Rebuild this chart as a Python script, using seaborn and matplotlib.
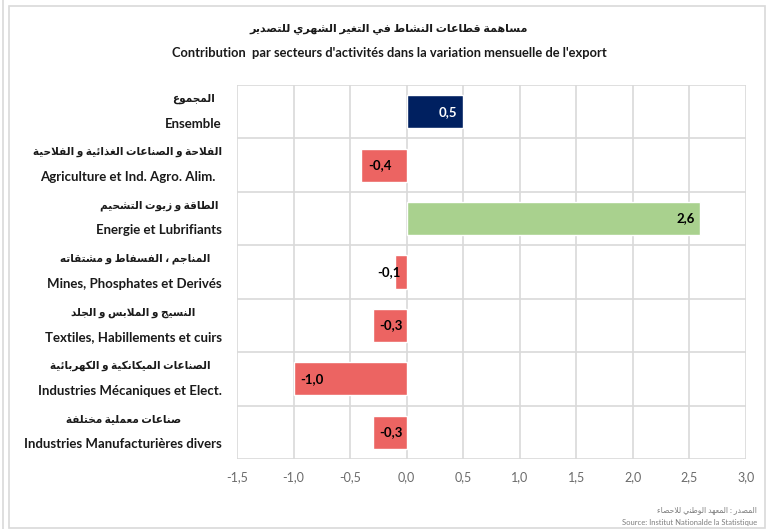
"""
Contribution par secteurs d'activites dans la variation mensuelle de l'export
Horizontal bar chart, seaborn
"""

import matplotlib
matplotlib.use('Agg')
import matplotlib.pyplot as plt
import matplotlib.transforms as mtransforms
from matplotlib.patches import Rectangle
import pandas as pd
import seaborn as sns

# Data
SECTORS_AR = ['المجموع',
              'الفلاحة و الصناعات الغذائية و الفلاحية',
              'الطاقة و زيوت التشحيم',
              'المناجم ، الفسفاط و مشتقاته',
              'النسيج و الملابس و الجلد',
              'الصناعات الميكانكية و الكهربائية',
              'صناعات معملية مختلفة']
SECTORS_FR = ['Ensemble',
              'Agriculture et Ind. Agro. Alim.',
              'Energie et Lubrifiants',
              'Mines, Phosphates et Derivés',
              'Textiles, Habillements et cuirs',
              'Industries Mécaniques et Elect.',
              'Industries Manufacturières divers']
VALUES = [0.5, -0.4, 2.6, -0.1, -0.3, -1.0, -0.3]
X_TICKS = [-1.5, -1.0, -0.5, 0.0, 0.5, 1.0, 1.5, 2.0, 2.5, 3.0]

TITLE_AR = 'مساهمة قطاعات النشاط في التغير الشهري للتصدير'
TITLE_FR = "Contribution  par secteurs d'activités dans la variation mensuelle de l'export"
SOURCE_AR = 'المصدر : المعهد الوطني للاحصاء'
SOURCE_FR = 'Source: Institut Nationalde la Statistique'

NAVY = '#002060'
RED = '#EC6462'
GREEN = '#A9D18E'
GRID = '#D9D9D9'
INK = '#1a1a1a'

FONT = ['Lato', 'DejaVu Sans']
W, H = 769, 529

# --- minimal Arabic shaping (matplotlib has no complex text layout) ---
DUAL = {'ئ': 0xFE89, 'ب': 0xFE8F, 'ت': 0xFE95, 'ث': 0xFE99, 'ج': 0xFE9D,
        'ح': 0xFEA1, 'خ': 0xFEA5, 'س': 0xFEB1, 'ش': 0xFEB5, 'ص': 0xFEB9,
        'ض': 0xFEBD, 'ط': 0xFEC1, 'ظ': 0xFEC5, 'ع': 0xFEC9, 'غ': 0xFECD,
        'ف': 0xFED1, 'ق': 0xFED5, 'ك': 0xFED9, 'ل': 0xFEDD, 'م': 0xFEE1,
        'ن': 0xFEE5, 'ه': 0xFEE9, 'ي': 0xFEF1}
RIGHT = {'آ': 0xFE81, 'أ': 0xFE83, 'ؤ': 0xFE85, 'إ': 0xFE87, 'ا': 0xFE8D,
         'ة': 0xFE93, 'د': 0xFEA9, 'ذ': 0xFEAB, 'ر': 0xFEAD, 'ز': 0xFEAF,
         'و': 0xFEED, 'ى': 0xFEEF}
LAM_ALEF = {'آ': 0xFEF5, 'أ': 0xFEF7, 'إ': 0xFEF9, 'ا': 0xFEFB}


def shape_ar(text):
    """Contextual forms + visual (right-to-left) order"""
    out = []
    i = 0
    n = len(text)
    while i < n:
        ch = text[i]
        prev_j = i > 0 and text[i - 1] in DUAL
        nxt = text[i + 1] if i + 1 < n else ''
        if ch == 'ل' and nxt in LAM_ALEF:
            out.append(chr(LAM_ALEF[nxt] + (1 if prev_j else 0)))
            i += 2
            continue
        if ch in DUAL:
            nxt_j = nxt in DUAL or nxt in RIGHT
            if prev_j and nxt_j:
                code = DUAL[ch] + 3
            elif prev_j:
                code = DUAL[ch] + 1
            elif nxt_j:
                code = DUAL[ch] + 2
            else:
                code = DUAL[ch]
            out.append(chr(code))
        elif ch in RIGHT:
            out.append(chr(RIGHT[ch] + (1 if prev_j else 0)))
        else:
            out.append(ch)
        i += 1
    return ''.join(reversed(out))


def fmt(v):
    return f'{v:.1f}'.replace('.', ',')


def main():
    df = pd.DataFrame({'sector': SECTORS_FR, 'value': VALUES})
    colors = [NAVY] + [GREEN if v > 0 else RED for v in VALUES[1:]]

    sns.set_style('white')
    plt.rcParams['font.family'] = FONT

    fig = plt.figure(figsize=(W / 100, H / 100), dpi=100)
    ax = fig.add_axes([237 / W, 1 - 459 / H, (745.7 - 237) / W, (459 - 85) / H])

    sns.barplot(data=df, y='sector', x='value', hue='sector', palette=colors,
                orient='h', width=0.62, legend=False, ax=ax, saturation=1)

    ax.set_xlim(X_TICKS[0], X_TICKS[-1])
    ax.set_ylim(len(VALUES) - 0.5, -0.5)
    ax.set_xticks(X_TICKS)
    ax.set_xticklabels([fmt(t) for t in X_TICKS], color='#6B6B6B', fontsize=9)
    ax.tick_params(axis='x', length=0, pad=9)
    ax.set_yticks([])
    ax.set_xlabel('')
    ax.set_ylabel('')

    # grid: vertical at ticks, horizontal between categories
    for t in X_TICKS:
        ax.axvline(t, color=GRID, lw=1.2, zorder=0)
    for k in range(len(VALUES) + 1):
        ax.axhline(k - 0.5, color=GRID, lw=1.2, zorder=0)
    for s in ax.spines.values():
        s.set_visible(False)

    # data labels
    for i, v in enumerate(VALUES):
        color = 'white' if i == 0 else 'black'
        if v > 0:
            xy, off, ha = (v, i), -4, 'right'
        elif abs(v) < 0.2:
            xy, off, ha = (0, i), -4.5, 'right'
        else:
            xy, off, ha = (v, i), 5, 'left'
        ax.annotate(fmt(v), xy, xytext=(off, 0), textcoords='offset points',
                    ha=ha, va='center', fontsize=9.5, fontweight='bold', color=color)

    # category labels, Arabic over French, centered block right-aligned at x=222px
    renderer = fig.canvas.get_renderer()
    trans = mtransforms.blended_transform_factory(fig.transFigure, ax.transData)
    right_edge = 222 / W
    for i, (ar, fr) in enumerate(zip(SECTORS_AR, SECTORS_FR)):
        t_ar = fig.text(0, i, shape_ar(ar), ha='center', va='center', fontsize=7.6,
                        fontweight='bold', color=INK,
                        transform=mtransforms.offset_copy(trans, fig=fig, y=9.5, units='points'))
        t_fr = fig.text(0, i, fr, ha='center', va='center', fontsize=9.5,
                        fontweight='bold', color=INK,
                        transform=mtransforms.offset_copy(trans, fig=fig, y=-8.5, units='points'))
        width = max(t_ar.get_window_extent(renderer).width,
                    t_fr.get_window_extent(renderer).width)
        xc = right_edge - width / 2 / W
        t_ar.set_x(xc)
        t_fr.set_x(xc)

    # titles
    fig.text(389 / W, 1 - 28 / H, shape_ar(TITLE_AR), ha='center', va='center',
             fontsize=8, fontweight='bold', color=INK)
    fig.text(389 / W, 1 - 53 / H, TITLE_FR, ha='center', va='center',
             fontsize=9.3, fontweight='bold', color=INK)

    # source
    fig.text(757 / W, 1 - 510 / H, shape_ar(SOURCE_AR), ha='right', va='center',
             fontsize=5.5, color='#7F7F7F')
    fig.text(757 / W, 1 - 522 / H, SOURCE_FR, ha='right', va='center',
             fontsize=5.5, color='#7F7F7F')

    # chart frame
    fig.patches.append(Rectangle((9 / W, 0.002), (765 - 9) / W, 1 - 6 / H - 0.002,
                                 transform=fig.transFigure, fill=False,
                                 edgecolor=GRID, lw=1.2))
    fig.add_artist(plt.Line2D([3 / W, 3 / W], [0, 1], transform=fig.transFigure,
                              color=GRID, lw=1.2))

    fig.savefig('out.png', dpi=100)
    plt.close(fig)


if __name__ == '__main__':
    main()
